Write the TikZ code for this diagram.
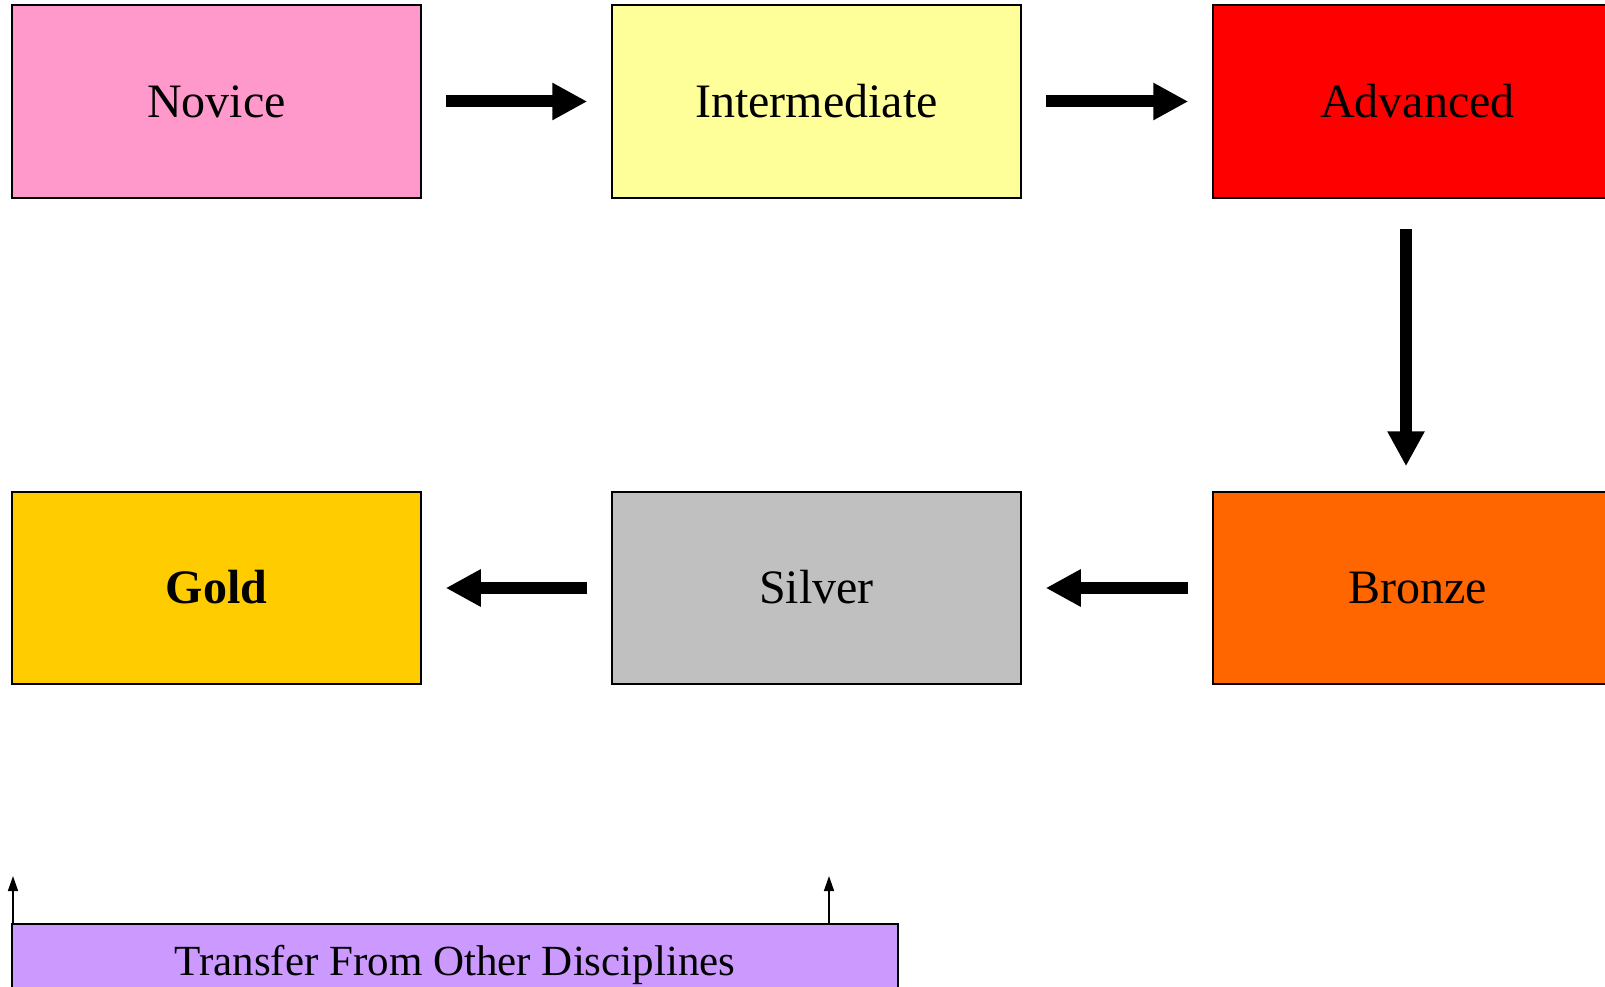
\documentclass[tikz,border=0pt]{standalone}
\usepackage{fontspec}
\setmainfont{Liberation Serif}
\usetikzlibrary{arrows.meta}
\definecolor{cNovice}{HTML}{FF99CC}
\definecolor{cInter}{HTML}{FFFF99}
\definecolor{cAdv}{HTML}{FF0000}
\definecolor{cBronze}{HTML}{FF6600}
\definecolor{cSilver}{HTML}{C0C0C0}
\definecolor{cGold}{HTML}{FFCC00}
\definecolor{cPurple}{HTML}{CC99FF}
\tikzset{
  levelbox/.style={draw=black, line width=1.5pt, minimum width=409pt, minimum height=193pt,
    inner sep=0pt, text height=31.5pt, text depth=0pt,
    font=\fontsize{48}{58}\selectfont},
  bigarrow/.style={line width=12pt, line cap=butt, -{Triangle[width=35pt,length=35pt]}},
  thinarrow/.style={line width=1.5pt, -{Triangle[width=10pt,length=15pt]}},
}
\begin{document}
\begin{tikzpicture}[x=1pt,y=-1pt]
\useasboundingbox (0,0) rectangle (1605,987);
\clip (0,0) rectangle (1605,987);
\node[levelbox, fill=cNovice] (novice) at (216.5,101.5) {Novice};
\node[levelbox, fill=cInter] (inter) at (816.5,101.5) {Intermediate};
\node[levelbox, fill=cAdv] (adv) at (1417.5,101.5) {Advanced};
\node[levelbox, fill=cGold, minimum height=192pt] (gold) at (216.5,588) {\bfseries Gold};
\node[levelbox, fill=cSilver, minimum height=192pt] (silver) at (816.5,588) {Silver};
\node[levelbox, fill=cBronze, minimum height=192pt] (bronze) at (1417.5,588) {Bronze};
\node[draw=black, line width=1.5pt, fill=cPurple, minimum width=886pt, minimum height=69pt,
  inner sep=0pt, text height=28.5pt, text depth=0pt, font=\fontsize{43}{52}\selectfont]
  (purple) at (455,958.5) {\raisebox{-3pt}{Transfer From Other Disciplines}};
\draw[bigarrow, shorten <=24pt, shorten >=24pt] (novice) -- (inter);
\draw[bigarrow, shorten <=24pt, shorten >=24pt] (inter) -- (adv);
\draw[bigarrow, shorten <=30pt, shorten >=25pt] ([xshift=-11.5pt]adv.south) -- ([xshift=-11.5pt]bronze.north);
\draw[bigarrow, shorten <=24pt, shorten >=24pt] (bronze) -- (silver);
\draw[bigarrow, shorten <=24pt, shorten >=24pt] (silver) -- (gold);
\coordinate (tA) at (13,876);
\coordinate (tB) at (829,876);
\draw[thinarrow] (purple.north -| tA) -- (tA);
\draw[thinarrow] (purple.north -| tB) -- (tB);
\end{tikzpicture}
\end{document}
